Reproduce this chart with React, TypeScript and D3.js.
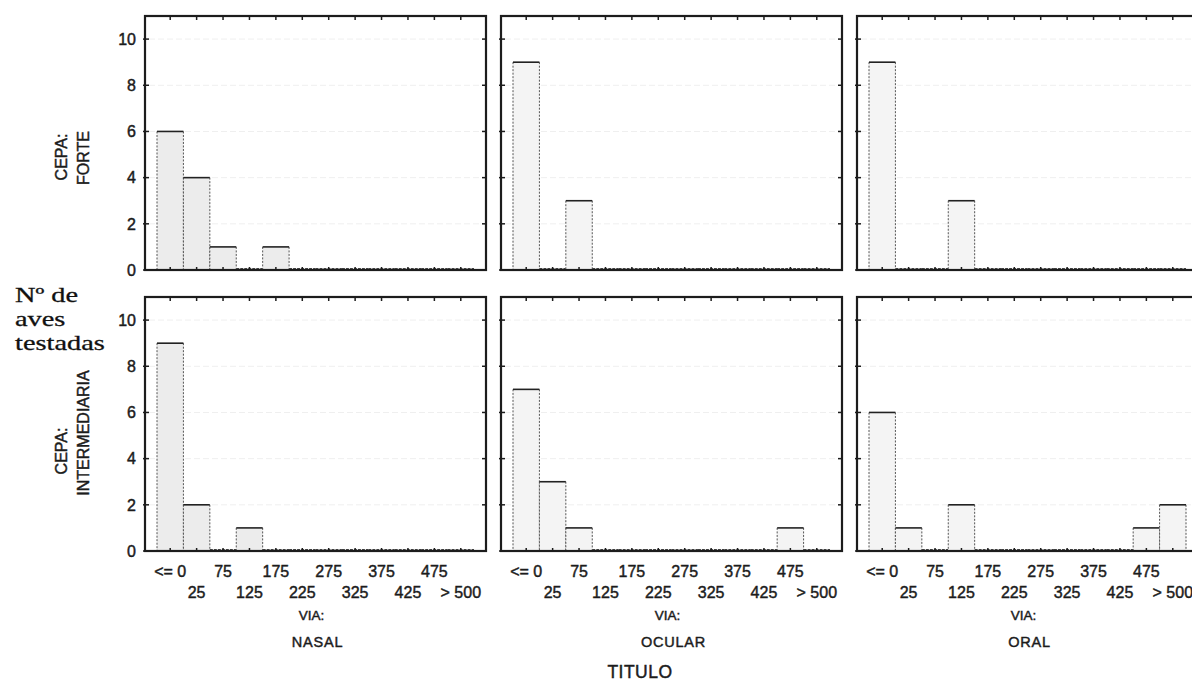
import * as d3 from 'd3'

// bins of the "TITULO" axis
const BINS = ['<= 0', '25', '75', '125', '175', '225', '275', '325', '375', '425', '475', '> 500']
const VIAS = ['NASAL', 'OCULAR', 'ORAL']
const CEPAS = ['FORTE', 'INTERMEDIARIA']
const Y_TICKS = [0, 2, 4, 6, 8, 10]
const Y_TITLE = ['Nº de', 'aves', 'testadas']

// counts per bin (Nº de aves testadas)
const FORTE_NASAL = [6, 4, 1, 0, 1, 0, 0, 0, 0, 0, 0, 0]
const FORTE_OCULAR = [9, 0, 3, 0, 0, 0, 0, 0, 0, 0, 0, 0]
const FORTE_ORAL = [9, 0, 0, 3, 0, 0, 0, 0, 0, 0, 0, 0]
const INTER_NASAL = [9, 2, 0, 1, 0, 0, 0, 0, 0, 0, 0, 0]
const INTER_OCULAR = [7, 3, 1, 0, 0, 0, 0, 0, 0, 0, 1, 0]
const INTER_ORAL = [6, 1, 0, 2, 0, 0, 0, 0, 0, 0, 1, 2]

const GRID = [
  [FORTE_NASAL, FORTE_OCULAR, FORTE_ORAL],
  [INTER_NASAL, INTER_OCULAR, INTER_ORAL],
]

const W = 1192, H = 689
const LEFT = 145, TOP = 16
const PW = 341, PH = 254
const GAP_X = 15, GAP_Y = 27
const PAD = 12
const SANS = '"Liberation Sans", Arial, sans-serif'
const SERIF = '"Liberation Serif", "Times New Roman", serif'
const INK = '#1c1c1c'
const HEAVY = { stroke: INK, strokeWidth: 0.45 }

// vertical position of the two rotated row labels, relative to the row top
const ROW_LABEL_Y = [[141, 142], [154, 136]]

const x = d3.scaleBand<string>().domain(BINS).range([PAD, PW - PAD]).paddingInner(0)
const y = d3.scaleLinear().domain([0, 11]).range([PH, 0])

function Panel({ values, col, row }: { values: number[]; col: number; row: number }) {
  const bw = x.bandwidth()
  return (
    <g>
      {/* faint grid from the original scan */}
      {Y_TICKS.filter(t => t > 0).map(t => (
        <line key={'g' + t} x1={4} x2={PW - 4} y1={y(t)} y2={y(t)} stroke="#efefef" strokeWidth={1} strokeDasharray="6 3" />
      ))}

      {values.map((v, i) => {
        const bx = x(BINS[i])!
        const by = y(v)
        if (v === 0) {
          return <line key={i} x1={bx} x2={bx + bw} y1={PH - 1.5} y2={PH - 1.5} stroke="#444" strokeWidth={1} strokeDasharray="3 1" />
        }
        return (
          <g key={i}>
            <rect x={bx} y={by} width={bw} height={PH - by} fill={col === 0 ? '#ececec' : '#f4f4f4'} />
            <line x1={bx} x2={bx} y1={by} y2={PH} stroke="#555" strokeWidth={1} strokeDasharray="2 1.5" />
            <line x1={bx + bw} x2={bx + bw} y1={by} y2={PH} stroke="#555" strokeWidth={1} strokeDasharray="2 1.5" />
            <line x1={bx} x2={bx + bw} y1={by} y2={by} stroke="#222" strokeWidth={1.6} />
          </g>
        )
      })}

      {/* frame */}
      <rect x={0} y={0} width={PW} height={PH} fill="none" stroke={INK} strokeWidth={2.2} />

      {/* tick marks */}
      {BINS.map(b => {
        const cx = x(b)! + bw / 2
        return (
          <g key={'t' + b}>
            <line x1={cx} x2={cx} y1={0} y2={4} stroke={INK} strokeWidth={1.5} />
            <line x1={cx} x2={cx} y1={PH} y2={PH - 3} stroke={INK} strokeWidth={1.5} />
          </g>
        )
      })}
      {Y_TICKS.map(t => (
        <g key={'y' + t}>
          <line x1={-2} x2={4} y1={y(t)} y2={y(t)} stroke={INK} strokeWidth={1.5} />
          <line x1={PW - 4} x2={PW + 1} y1={y(t)} y2={y(t)} stroke={INK} strokeWidth={1.5} />
        </g>
      ))}

      {/* y tick labels, left column only */}
      {col === 0 && Y_TICKS.map(t => (
        <text key={'yl' + t} x={-9} y={y(t)} dy="0.36em" textAnchor="end" fontSize={16} fill={INK} {...HEAVY}>{t}</text>
      ))}

      {/* x tick labels, bottom row only, staggered over two lines */}
      {row === 1 && BINS.map((b, i) => (
        <text key={'xl' + b} x={x(b)! + bw / 2} y={PH + (i % 2 === 0 ? 26 : 47)} textAnchor="middle" fontSize={16} fill={INK} {...HEAVY}>{b}</text>
      ))}
      {row === 1 && (
        <g>
          <text x={PW / 2 - 4} y={PH + 69} textAnchor="middle" fontSize={13.5} fill={INK} {...HEAVY}>VIA:</text>
          <text x={PW / 2 + 2} y={PH + 96} textAnchor="middle" fontSize={14.5} letterSpacing={0.8} fill={INK} {...HEAVY}>{VIAS[col]}</text>
        </g>
      )}
    </g>
  )
}

export default function App() {
  return (
    <svg width={W} height={H} style={{ position: 'absolute', left: 0, top: 0, background: '#fff' }} fontFamily={SANS}>
      <rect width={W} height={H} fill="#fff" />

      {GRID.map((rowVals, r) => (
        <g key={r}>
          {rowVals.map((vals, c) => (
            <g key={c} transform={`translate(${LEFT + c * (PW + GAP_X)},${TOP + r * (PH + GAP_Y)})`}>
              <Panel values={vals} col={c} row={r} />
            </g>
          ))}
          <text transform={`translate(67,${TOP + r * (PH + GAP_Y) + ROW_LABEL_Y[r][0]}) rotate(-90)`} textAnchor="middle" fontSize={16} fill={INK} {...HEAVY}>CEPA:</text>
          <text transform={`translate(89,${TOP + r * (PH + GAP_Y) + ROW_LABEL_Y[r][1]}) rotate(-90)`} textAnchor="middle" fontSize={16} fill={INK} {...HEAVY}>{CEPAS[r]}</text>
        </g>
      ))}

      {/* overall y title */}
      <g transform="translate(15,0) scale(1.32,1)">
        {Y_TITLE.map((s, i) => (
          <text key={s} x={0} y={302 + i * 24} fontFamily={SERIF} fontSize={21.5} fill="#111" stroke="#111" strokeWidth={0.3}>{s}</text>
        ))}
      </g>

      <text x={640} y={678} textAnchor="middle" fontSize={17.5} letterSpacing={0.5} fill={INK} {...HEAVY}>TITULO</text>
    </svg>
  )
}
